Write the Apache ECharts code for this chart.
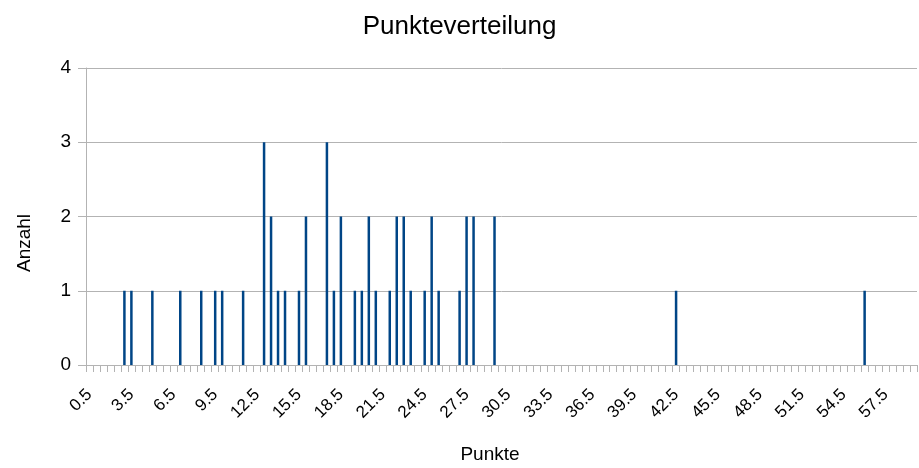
<!DOCTYPE html>
<html>
<head>
<meta charset="utf-8">
<script src="https://cdn.jsdelivr.net/npm/echarts@6/dist/echarts.min.js"></script>
<style>html,body{margin:0;padding:0;background:#fff}#c{width:919px;height:468px}</style>
</head>
<body>
<div id="c"></div>
<script>
// Category axis: Punkte from 0.5 to 59.5 in steps of 0.5
var categories = ["0.5","1","1.5","2","2.5","3","3.5","4","4.5","5","5.5","6","6.5","7","7.5","8","8.5","9","9.5","10",
"10.5","11","11.5","12","12.5","13","13.5","14","14.5","15","15.5","16","16.5","17","17.5","18","18.5","19","19.5","20",
"20.5","21","21.5","22","22.5","23","23.5","24","24.5","25","25.5","26","26.5","27","27.5","28","28.5","29","29.5","30",
"30.5","31","31.5","32","32.5","33","33.5","34","34.5","35","35.5","36","36.5","37","37.5","38","38.5","39","39.5","40",
"40.5","41","41.5","42","42.5","43","43.5","44","44.5","45","45.5","46","46.5","47","47.5","48","48.5","49","49.5","50",
"50.5","51","51.5","52","52.5","53","53.5","54","54.5","55","55.5","56","56.5","57","57.5","58","58.5","59","59.5"];
// Observed scores and how often each occurred
var points = ["3","3.5","5","7","8.5","9.5","10","11.5","13","13.5","14","14.5","15.5","16","17.5","18","18.5","19.5","20","20.5",
"21","22","22.5","23","23.5","24.5","25","25.5","27","27.5","28","29.5","42.5","56"];
var counts = [1,1,1,1,1,1,1,1,3,2,1,1,1,2,3,1,2,1,1,2,
1,1,2,2,1,1,2,1,1,2,2,2,1,1];
var yTicks = [0,1,2,3,4];

var lookup = {};
points.forEach(function(p,i){ lookup[p] = counts[i]; });
var seriesData = categories.map(function(c){ return lookup[c] || 0; });

var chart = echarts.init(document.getElementById('c'), null, {renderer:'canvas'});
var font = '"Liberation Sans", Arial, sans-serif';
chart.setOption({
  backgroundColor:'#ffffff',
  animation:false,
  title:{ text:'Punkteverteilung', left:'center', top:9,
    textStyle:{ fontFamily:font, fontSize:26, fontWeight:'normal', color:'#000' } },
  grid:{ left:86, right:2, top:68, bottom:103, containLabel:false },
  xAxis:{
    type:'category', data:categories, boundaryGap:true,
    axisLine:{ lineStyle:{ color:'#b3b3b3', width:1 } },
    axisTick:{ show:true, interval:0, length:7, lineStyle:{ color:'#b3b3b3' } },
    axisLabel:{ interval:5, rotate:45, fontFamily:font, fontSize:17, color:'#000', margin:27 },
    splitLine:{ show:false }
  },
  yAxis:{
    type:'value', min:yTicks[0], max:yTicks[yTicks.length-1], interval:1,
    axisLine:{ show:true, lineStyle:{ color:'#b3b3b3', width:1 } },
    axisTick:{ show:true, length:8, lineStyle:{ color:'#b3b3b3' } },
    axisLabel:{ fontFamily:font, fontSize:19, color:'#000', margin:15 },
    splitLine:{ lineStyle:{ color:'#b3b3b3', width:1 } }
  },
  graphic:[
    { type:'text', x:490, y:455,
      style:{ text:'Punkte', font:'19px ' + font, fill:'#000', textAlign:'center', textVerticalAlign:'middle' } },
    { type:'text', x:25, y:243, rotation:Math.PI/2,
      style:{ text:'Anzahl', font:'19px ' + font, fill:'#000', textAlign:'center', textVerticalAlign:'middle' } }
  ],
  series:[{
    type:'bar', data:seriesData, barWidth:2.5,
    itemStyle:{ color:'#004586' }
  }]
});
</script>
</body>
</html>
